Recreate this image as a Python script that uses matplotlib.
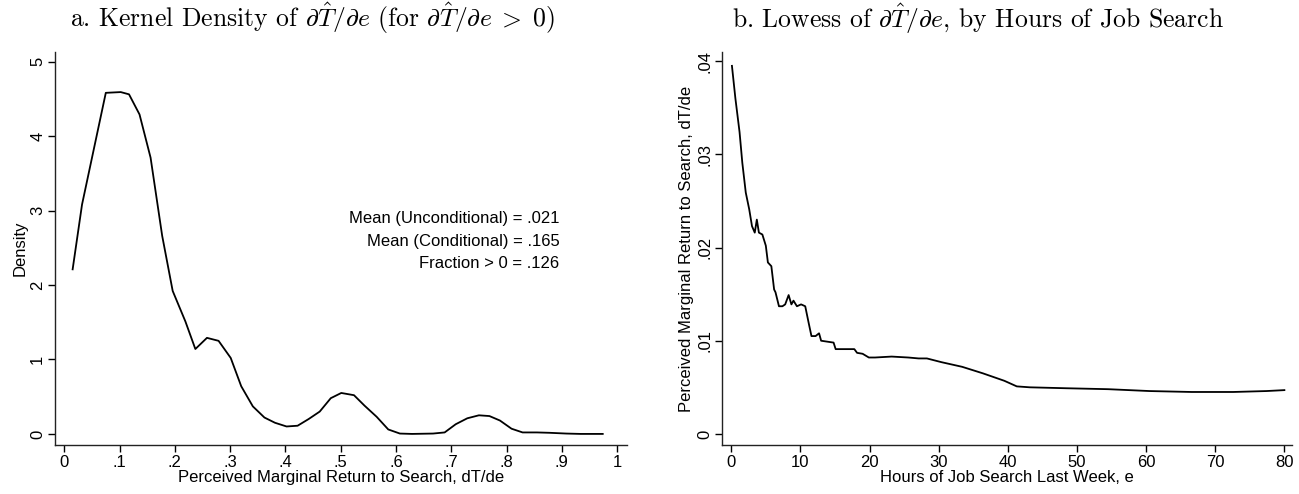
import matplotlib
matplotlib.use("Agg")
import numpy as np
import matplotlib.pyplot as plt

# panel a: kernel density of dT/de (for dT/de > 0)
kd_x = [0.015, 0.032, 0.075, 0.102, 0.117, 0.136, 0.156, 0.177, 0.196, 0.219,
        0.237, 0.258, 0.279, 0.301, 0.320, 0.341, 0.362, 0.381, 0.402, 0.422,
        0.442, 0.462, 0.482, 0.501, 0.524, 0.543, 0.565, 0.586, 0.607, 0.629,
        0.667, 0.688, 0.708, 0.729, 0.750, 0.769, 0.788, 0.809, 0.829, 0.855,
        0.878, 0.908, 0.934, 0.974]
kd_y = [2.21, 3.08, 4.58, 4.59, 4.56, 4.29, 3.71, 2.66, 1.92, 1.51,
        1.14, 1.29, 1.25, 1.02, 0.64, 0.37, 0.22, 0.15, 0.10, 0.11,
        0.20, 0.30, 0.48, 0.55, 0.52, 0.38, 0.23, 0.06, 0.005, 0.0,
        0.005, 0.02, 0.13, 0.21, 0.25, 0.24, 0.18, 0.07, 0.02, 0.02,
        0.015, 0.005, 0.0, 0.0]

# panel b: lowess of dT/de by hours of job search
lw_x = [0.1, 0.6, 1.2, 1.6, 2.1, 2.6, 3.0, 3.4, 3.7, 4.0, 4.5, 5.0, 5.3, 5.8,
        6.2, 6.4, 6.9, 7.4, 7.8, 8.3, 8.7, 9.0, 9.5, 10.1, 10.7, 11.2, 11.6,
        12.2, 12.7, 13.0, 14.8, 15.1, 17.8, 18.2, 19.0, 19.9, 20.8, 23.2, 25.6,
        27.1, 28.3, 30.4, 33.4, 36.4, 39.5, 41.3, 43.2, 48.5, 54.5, 60.5, 66.6,
        72.6, 77.4, 80.0]
lw_y = [0.0395, 0.0360, 0.0324, 0.0291, 0.0259, 0.0241, 0.0223, 0.0216, 0.0230,
        0.0216, 0.0214, 0.0202, 0.0184, 0.0180, 0.0155, 0.0152, 0.0137, 0.0137,
        0.0139, 0.0149, 0.0139, 0.0143, 0.0137, 0.0139, 0.0137, 0.0119, 0.0105,
        0.0105, 0.0108, 0.0100, 0.0098, 0.0091, 0.0091, 0.0087, 0.0086, 0.0082,
        0.0082, 0.0083, 0.0082, 0.0081, 0.0081, 0.0077, 0.0072, 0.0065, 0.0057,
        0.0051, 0.0050, 0.0049, 0.0048, 0.0046, 0.0045, 0.0045, 0.0046, 0.0047]

kd_xticks = [0, .1, .2, .3, .4, .5, .6, .7, .8, .9, 1]
kd_xlabels = ['0', '.1', '.2', '.3', '.4', '.5', '.6', '.7', '.8', '.9', '1']
kd_yticks = [0, 1, 2, 3, 4, 5]
lw_xticks = [0, 10, 20, 30, 40, 50, 60, 70, 80]
lw_yticks = [0, .01, .02, .03, .04]
lw_ylabels = ['0', '.01', '.02', '.03', '.04']

plt.rcParams['font.family'] = 'Liberation Sans'
plt.rcParams['mathtext.fontset'] = 'cm'

fig = plt.figure(figsize=(12.99, 4.94), dpi=100)
ax1 = fig.add_axes([0.0423, 0.099, 0.440, 0.796])
ax2 = fig.add_axes([0.5558, 0.099, 0.4388, 0.796])


def style(ax):
    ax.spines['top'].set_visible(False)
    ax.spines['right'].set_visible(False)
    for s in ('left', 'bottom'):
        ax.spines[s].set_linewidth(1.0)
        ax.spines[s].set_color('#222222')
    ax.tick_params(direction='out', length=5, width=1.0, labelsize=12, pad=2)
    for lab in ax.get_yticklabels():
        lab.set_rotation(90)
        lab.set_va('center')


ax1.plot(kd_x, kd_y, color='black', linewidth=1.3)
ax1.set_xlim(-0.017, 1.017)
ax1.set_ylim(-0.15, 5.13)
ax1.set_xticks(kd_xticks)
ax1.set_xticklabels(kd_xlabels)
ax1.set_yticks(kd_yticks)
ax1.set_yticklabels([str(t) for t in kd_yticks])
ax1.set_xlabel('Perceived Marginal Return to Search, dT/de', fontsize=12, labelpad=0)
ax1.set_ylabel('Density', fontsize=12, labelpad=2)
style(ax1)
ax1.text(0.896, 2.59, 'Mean (Unconditional) = .021\nMean (Conditional) = .165\nFraction > 0 = .126',
         ha='right', va='center', fontsize=12, linespacing=1.62, multialignment='right')

ax2.plot(lw_x, lw_y, color='black', linewidth=1.3)
ax2.set_xlim(-1.34, 81.1)
ax2.set_ylim(-0.0012, 0.041)
ax2.set_xticks(lw_xticks)
ax2.set_xticklabels([str(t) for t in lw_xticks])
ax2.set_yticks(lw_yticks)
ax2.set_yticklabels(lw_ylabels)
ax2.set_xlabel('Hours of Job Search Last Week, e', fontsize=12, labelpad=0)
ax2.set_ylabel('Perceived Marginal Return to Search, dT/de', fontsize=12, labelpad=2)
style(ax2)

fig.text(0.2405, 0.962, r'a. Kernel Density of $\partial\hat{T}/\partial e$ (for $\partial\hat{T}/\partial e\;>\;0$)',
         ha='center', va='center', fontsize=18.5, family='cmr10')
fig.text(0.7525, 0.962, r'b. Lowess of $\partial\hat{T}/\partial e$, by Hours of Job Search',
         ha='center', va='center', fontsize=18.5, family='cmr10')

fig.savefig('out.png', dpi=100)
